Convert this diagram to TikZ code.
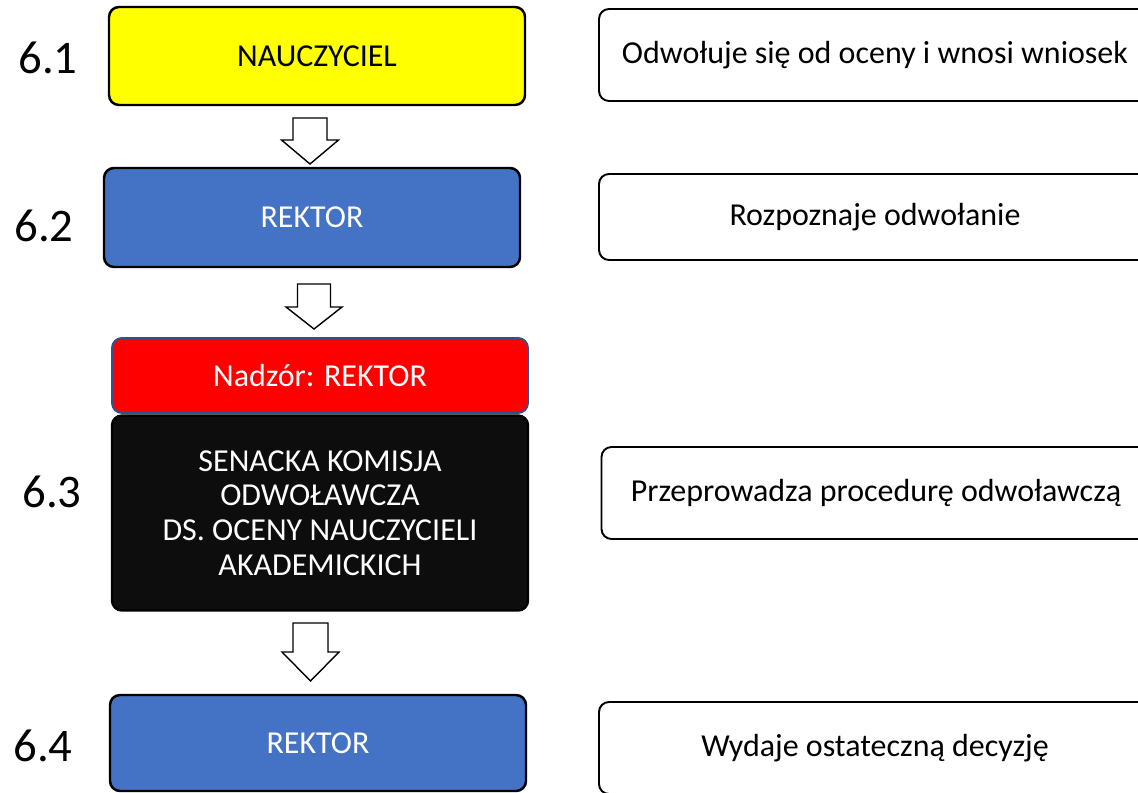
\documentclass[tikz,border=0pt]{standalone}
\usepackage{fontspec}
\setmainfont{Carlito}
\usetikzlibrary{calc}

\definecolor{boxyellow}{RGB}{255,255,0}
\definecolor{boxblue}{RGB}{68,114,196}
\definecolor{boxred}{RGB}{255,0,0}
\definecolor{boxblack}{RGB}{13,13,13}
\definecolor{rededge}{RGB}{47,82,143}

\tikzset{
  stepbox/.style={draw=black, line width=1.4pt, rounded corners=0.2cm, inner sep=0pt,
    minimum width=8.32cm, align=center, font=\fontsize{18.2}{21.8}\selectfont},
  notebox/.style={draw=black, line width=1.1pt, rounded corners=0.2cm, inner sep=0pt,
    minimum width=11.04cm, minimum height=1.84cm, font=\fontsize{18.2}{21.8}\selectfont},
  stepnum/.style={font=\fontsize{26.6}{30}\selectfont, inner sep=0pt},
  blockarrow/.style={draw=black, fill=white, line width=0.8pt, line join=miter}
}

\begin{document}
\begin{tikzpicture}
  \useasboundingbox (0,0) rectangle (22.76,15.84);
  \clip (0,0) rectangle (22.76,15.84);

  % left column
  \node (n61) at (6.34, 14.72) [stepbox, fill=boxyellow, minimum height=1.96cm] {NAUCZYCIEL};
  \node (n62) at (6.24, 11.49) [stepbox, fill=boxblue, text=white, minimum height=1.98cm] {REKTOR};
  \node (nadzor) at (6.40, 8.33) [stepbox, fill=boxred, draw=rededge, line width=1.1pt, text=white,
    minimum height=1.50cm] {Nadzór: REKTOR};
  \node (n63) at (6.40, 5.58) [stepbox, fill=boxblack, text=white, minimum height=3.90cm,
    font=\fontsize{18.2}{19.8}\selectfont] {SENACKA KOMISJA\\ODWOŁAWCZA\\DS. OCENY NAUCZYCIELI\\AKADEMICKICH};
  \node (n64) at (6.36, 0.98) [stepbox, fill=boxblue, text=white, minimum height=1.92cm] {REKTOR};

  % numbers
  \node (l61) at (0.96, 14.68) [stepnum] {6.1};
  \node (l62) at (0.88, 11.32) [stepnum] {6.2};
  \node (l63) at (1.04, 6.00) [stepnum] {6.3};
  \node (l64) at (0.86, 0.92) [stepnum] {6.4};

  % right column
  \node (d61) at (17.50, 14.74) [notebox] {Odwołuje się od oceny i wnosi wniosek};
  \node (d62) at (17.50, 11.50) [notebox, minimum height=1.72cm] {Rozpoznaje odwołanie};
  \node (d63) at (17.52, 5.98) [notebox, minimum width=10.98cm] {Przeprowadza procedurę odwoławczą};
  \node (d64) at (17.50, 0.88) [notebox] {Wydaje ostateczną decyzję};

  % arrows
  \coordinate (a1) at (6.20, 13.48);
  \coordinate (a2) at (6.28, 10.16);
  \coordinate (a3) at (6.21, 3.38);

  \draw[blockarrow] (a1) ++(-0.34,0) -- ++(0,-0.44) -- ++(-0.23,0) -- ++(0.57,-0.48)
    -- ++(0.57,0.48) -- ++(-0.23,0) -- ++(0,0.44) -- cycle;
  \draw[blockarrow] (a2) ++(-0.33,0) -- ++(0,-0.46) -- ++(-0.23,0) -- ++(0.56,-0.44)
    -- ++(0.56,0.44) -- ++(-0.23,0) -- ++(0,0.46) -- cycle;
  \draw[blockarrow] (a3) ++(-0.35,0) -- ++(0,-0.58) -- ++(-0.22,0) -- ++(0.57,-0.58)
    -- ++(0.57,0.58) -- ++(-0.22,0) -- ++(0,0.58) -- cycle;
\end{tikzpicture}
\end{document}
